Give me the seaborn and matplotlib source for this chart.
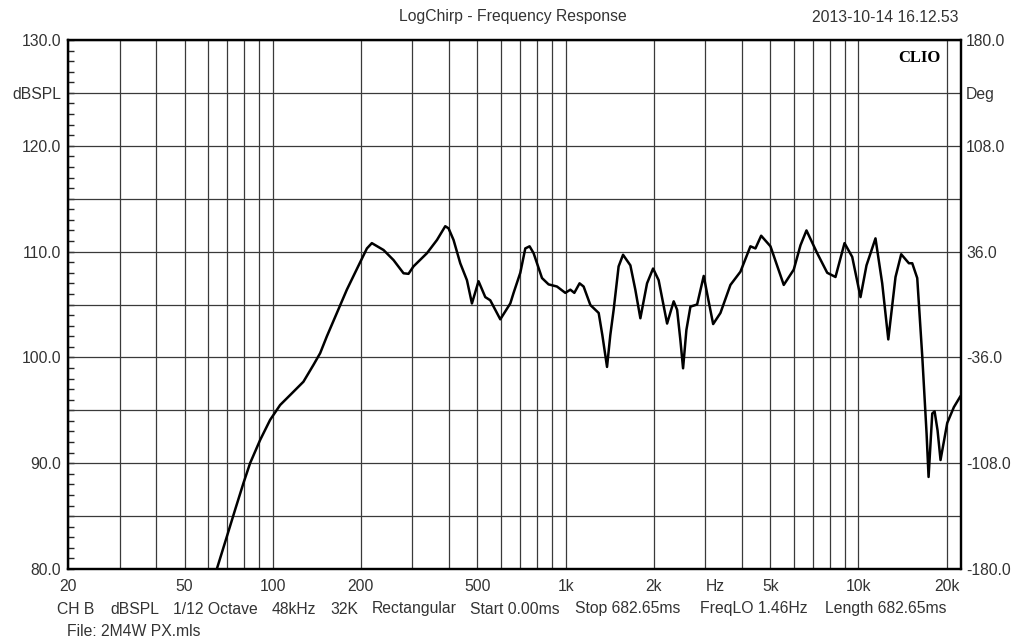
import numpy as np
import pandas as pd
import matplotlib
matplotlib.use('Agg')
import matplotlib.pyplot as plt
import seaborn as sns

# Frequency response
freq_hz = [62, 69.7, 74.4, 79.4, 83.7, 90.6, 98.0, 106, 116.2, 127.3, 137.8, 145.2,
           153.1, 165.6, 179.1, 198.9, 209.7, 218, 239, 258.5, 279.7, 290.8, 302.4,
           336.2, 363.8, 388.2, 398.4, 414.4, 436.8, 460.4, 478.8, 504.4, 531.8, 553,
           598.4, 647.4, 664.4, 700.4, 728.4, 753.4, 777.6, 830.6, 874.8, 934.4, 997.8,
           1038, 1071, 1116, 1152, 1215, 1297, 1335, 1385, 1421, 1459, 1517, 1571,
           1664, 1730, 1800, 1897, 1989, 2078, 2221, 2339, 2403, 2466, 2518, 2585,
           2668, 2812, 2962, 3074, 3190, 3378, 3654, 3953, 4276, 4448, 4653, 5006,
           5557, 6012, 6338, 6644, 7228, 7820, 8346, 8960, 9518, 10160, 10650, 11430,
           12050, 12640, 13380, 13990, 14860, 15260, 15870, 16510, 17080, 17350,
           17860, 18190, 18620, 19060, 20090, 21170, 22310]
spl_db = [78.5, 83.05, 85.6, 88.1, 90.0, 92.2, 94.1, 95.5, 96.6, 97.7, 99.3, 100.4,
          102.0, 104.2, 106.4, 109.0, 110.3, 110.8, 110.15, 109.2, 107.95, 107.9, 108.6,
          109.85, 111.1, 112.4, 112.2, 111.1, 108.9, 107.3, 105.1, 107.2, 105.7, 105.4,
          103.6, 105.1, 106.1, 108.0, 110.3, 110.5, 109.85, 107.5, 106.9, 106.7, 106.1,
          106.4, 106.1, 107.0, 106.7, 104.95, 104.2, 102.1, 99.1, 102.1, 104.5, 108.6, 109.7,
          108.7, 106.4, 103.7, 107.0, 108.4, 107.3, 103.2, 105.3, 104.5, 101.6, 98.97, 102.6,
          104.8, 105.0, 107.7, 105.4, 103.15, 104.2, 106.85, 108.1, 110.5, 110.3, 111.5, 110.5,
          106.85, 108.3, 110.6, 112.0, 109.85, 108.0, 107.6, 110.8, 109.5, 105.7, 108.7, 111.25,
          107.0, 101.7, 107.6, 109.75, 108.9, 108.9, 107.5, 100.1, 92.8, 88.7,
          94.7, 94.9, 93.1, 90.3, 93.8, 95.3, 96.35]

x_tick_pos = [20, 50, 100, 200, 500, 1000, 2000, 3250, 5000, 10000, 20000]
x_tick_labels = ['20', '50', '100', '200', '500', '1k', '2k', 'Hz', '5k', '10k', '20k']
grid_freqs = ([20, 30, 40, 50, 60, 70, 80, 90] + list(range(100, 1000, 100))
              + list(range(1000, 10000, 1000)) + [10000, 20000])

left_pos = [80, 85, 90, 95, 100, 105, 110, 115, 120, 125, 130]
left_labels = ['80.0', '', '90.0', '', '100.0', '', '110.0', '', '120.0', 'dBSPL', '130.0']
right_labels = ['-180.0', '', '-108.0', '', '-36.0', '', '36.0', '', '108.0', 'Deg', '180.0']

footer_items = ['CH B', 'dBSPL', '1/12 Octave', '48kHz', '32K', 'Rectangular',
                'Start 0.00ms', 'Stop 682.65ms', 'FreqLO 1.46Hz', 'Length 682.65ms']
footer_x = [57, 110, 173, 272, 330, 372, 470, 575, 700, 825]  # pixel left edges

sns.set_style('white')
plt.rcParams['font.family'] = ['Liberation Sans', 'DejaVu Sans']
txt = '#333333'
fs = 11.3
W, H = 1016, 641

df = pd.DataFrame({'Frequency': freq_hz, 'SPL': spl_db})

fig = plt.figure(figsize=(W / 100, H / 100), dpi=100)
ax = fig.add_axes([68 / W, 1 - 569 / H, (960.5 - 68) / W, (569 - 40) / H])

for f in grid_freqs:
    ax.axvline(f, color='#3a3a3a', lw=0.9, zorder=1)
for v in range(80, 131, 5):
    ax.axhline(v, color='#3a3a3a', lw=0.9, zorder=1)

sns.lineplot(data=df, x='Frequency', y='SPL', ax=ax, color='black', lw=1.8, zorder=3)

ax.set_xscale('log')
ax.set_xlim(20, 22300)
ax.set_ylim(80, 130)
ax.set_xlabel('')
ax.set_ylabel('')

ax.set_xticks(x_tick_pos)
ax.set_xticklabels(x_tick_labels)
ax.xaxis.set_minor_locator(matplotlib.ticker.NullLocator())
ax.tick_params(axis='x', length=0, pad=7, labelsize=fs, labelcolor=txt)

ax.set_yticks(left_pos)
ax.set_yticklabels(left_labels)
ax.set_yticks(np.arange(80, 131, 1), minor=True)
ax.tick_params(axis='y', which='both', direction='in', length=4, width=1,
               right=True, left=True, pad=5, labelsize=fs, labelcolor=txt)

ax2 = ax.twinx()
ax2.set_ylim(80, 130)
ax2.set_yticks(left_pos)
ax2.set_yticklabels(right_labels)
ax2.tick_params(axis='y', length=0, pad=4, labelsize=fs, labelcolor=txt)

for a in (ax, ax2):
    for s in a.spines.values():
        s.set_visible(True)
        s.set_color('black')
        s.set_linewidth(1.6)

fig.text(513 / W, 1 - 17 / H, 'LogChirp - Frequency Response', ha='center', va='center',
         fontsize=fs, color=txt)
fig.text(958 / W, 1 - 17 / H, '2013-10-14 16.12.53', ha='right', va='center',
         fontsize=fs, color=txt)
ax.text(0.978, 0.982, 'CLIO', transform=ax.transAxes, ha='right', va='top',
        fontsize=12, fontweight='bold', family='Liberation Serif', color='black')

for label, px in zip(footer_items, footer_x):
    fig.text(px / W, 1 - 609 / H, label, ha='left', va='center', fontsize=fs, color=txt)
fig.text(67 / W, 1 - 632 / H, 'File: 2M4W PX.mls', ha='left', va='center',
         fontsize=fs, color=txt)

fig.savefig('out.png', dpi=100, facecolor='white')
